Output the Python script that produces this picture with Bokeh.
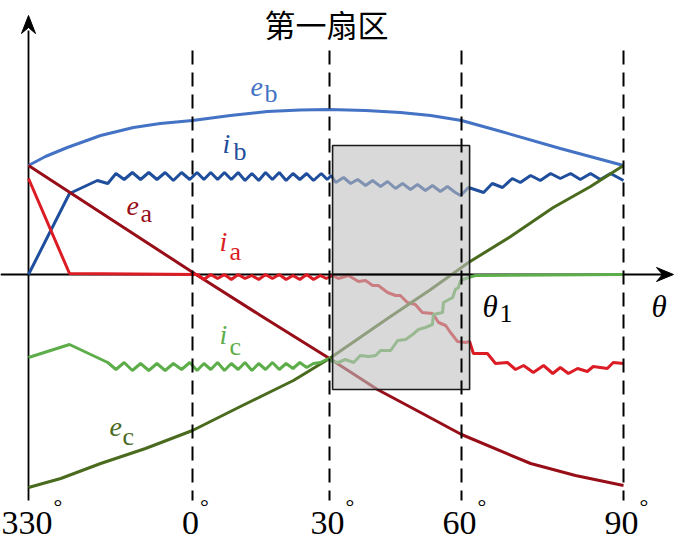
import numpy as np
from bokeh.plotting import figure
from bokeh.models import Range1d, Label
from bokeh.embed import file_html
from bokeh.resources import INLINE

# ---------------- data (angles in degrees, 330° written as -30) ----------------
TITLE = "第一扇区"
ANGLE_MARKS = [-30, 0, 30, 60, 90]
TICK_LABELS = ["330", "0", "30", "60", "90"]

EB_THETA = [-30, -26.9, -22.9, -16.8, -10.8, -5.9, 0, 8.3, 16.4, 23.6, 30, 38.2, 46.1, 53.0, 60, 66.7, 78.3, 90]
EB_VAL = [1.09, 1.18, 1.27, 1.39, 1.47, 1.51, 1.54, 1.59, 1.63, 1.645, 1.65, 1.64, 1.62, 1.59, 1.54, 1.44, 1.26, 1.09]

EA_THETA = [-30, -16.8, 1.1, 14.9, 30, 40.9, 50.7, 60, 72.8, 81.1, 90]
EA_VAL = [1.09, 0.62, -0.01, -0.41, -0.84, -1.15, -1.38, -1.60, -1.89, -2.01, -2.11]

EC_THETA = [-30, -24.1, -16.8, -8.6, 0, 10.5, 22.1, 30, 43.2, 53.0, 61.3, 69.1, 77.0, 83.9, 90]
EC_VAL = [-2.13, -2.04, -1.89, -1.74, -1.56, -1.32, -1.06, -0.84, -0.44, -0.15, 0.12, 0.38, 0.67, 0.88, 1.09]

IB_THETA = [-30, -22.5, -17.4, -15.5, -14.0, -12.5, -11.0, -9.5, -8.0, -6.5,
            -5.0, -3.5, -2.0, -0.5, 1.0, 2.5, 4.0, 5.5, 7.0, 8.5,
            10.0, 11.5, 13.0, 14.5, 16.0, 17.5, 19.0, 20.5, 22.0, 23.5,
            25.0, 26.5, 28.2, 29.5, 30.4, 31.4, 33.2, 34.8, 36.4, 38.2,
            39.8, 41.6, 43.2, 45.0, 46.6, 48.4, 50.0, 51.8, 53.4, 55.2,
            56.8, 58.6, 59.8, 61.3, 64.1, 65.7, 67.6, 69.4, 70.9, 72.8,
            74.6, 76.5, 78.3, 80.2, 82.0, 83.9, 85.7, 87.6, 90]
IB_VAL = [0.00, 0.81, 0.94, 0.91, 1.01, 0.95, 1.02, 0.95, 1.02, 0.95,
          1.02, 0.94, 1.02, 0.95, 1.02, 0.95, 1.02, 0.95, 1.02, 0.95,
          1.02, 0.94, 1.01, 0.94, 1.02, 0.95, 1.02, 0.94, 1.01, 0.95,
          1.01, 0.94, 1.01, 0.95, 0.99, 0.92, 0.97, 0.91, 0.95, 0.89,
          0.94, 0.88, 0.93, 0.86, 0.91, 0.85, 0.90, 0.84, 0.89, 0.83,
          0.88, 0.82, 0.79, 0.87, 0.82, 0.91, 0.87, 0.96, 0.92, 0.99,
          0.94, 1.01, 0.96, 1.01, 0.95, 1.01, 0.95, 1.01, 0.94]

IA_THETA = [-30, -22.5, 1.1, 2.5, 4.0, 5.5, 7.0, 8.5, 10.0, 11.5,
            13.0, 14.5, 16.0, 17.5, 19.0, 20.5, 22.0, 23.5, 25.0, 26.5,
            28.0, 29.3, 30.7, 32.0, 34.3, 36.6, 38.2, 39.8, 41.1, 43.2,
            45.0, 46.1, 47.7, 49.5, 51.1, 53.4, 54.8, 56.4, 57.5, 59.1,
            60.7, 61.5, 62.2, 64.8, 66.3, 68.5, 70.0, 71.5, 73.3, 75.2,
            76.9, 78.3, 79.8, 81.5, 83.3, 84.4, 87.0, 88.1, 90]
IA_VAL = [0.96, 0.01, 0.0, -0.05, 0.0, -0.04, 0.0, -0.05, 0.0, -0.04,
          -0.01, -0.05, 0.0, -0.04, 0.0, -0.05, -0.01, -0.05, 0.0, -0.05,
          -0.01, -0.04, -0.01, -0.04, -0.01, -0.07, -0.06, -0.11, -0.11, -0.18,
          -0.21, -0.21, -0.28, -0.30, -0.38, -0.39, -0.48, -0.51, -0.58, -0.67,
          -0.68, -0.67, -0.79, -0.79, -0.89, -0.88, -0.95, -0.91, -0.98, -0.91,
          -0.99, -0.93, -0.99, -0.94, -0.97, -0.92, -0.94, -0.88, -0.89]

IC_THETA = [-30, -22.5, -15.5, -14.0, -12.5, -11.0, -9.5, -8.0, -6.5, -5.0,
            -3.5, -2.0, -0.5, 1.0, 2.5, 4.0, 5.5, 7.0, 8.5, 10.0,
            11.5, 13.0, 14.5, 16.0, 17.5, 19.0, 20.5, 22.0, 23.5, 25.0,
            26.5, 28.0, 29.8, 30.7, 32.0, 33.6, 35.5, 37.0, 38.9, 40.5,
            41.6, 43.9, 45.5, 47.3, 48.9, 50.2, 51.8, 53.4, 53.6, 55.7,
            55.9, 58.0, 58.6, 59.3, 59.8, 61.3, 62.6, 90]
IC_VAL = [-0.83, -0.70, -0.88, -0.95, -0.88, -0.96, -0.89, -0.96, -0.89, -0.96,
          -0.89, -0.95, -0.88, -0.96, -0.89, -0.95, -0.88, -0.96, -0.89, -0.95,
          -0.88, -0.96, -0.89, -0.95, -0.88, -0.95, -0.89, -0.94, -0.88, -0.93,
          -0.89, -0.88, -0.84, -0.87, -0.88, -0.85, -0.88, -0.81, -0.82, -0.81,
          -0.76, -0.76, -0.66, -0.65, -0.60, -0.55, -0.53, -0.50, -0.40, -0.38,
          -0.28, -0.23, -0.15, -0.13, -0.06, -0.03, -0.01, 0.0]

RECT_THETA = [30.7, 61.5]
RECT_VAL = [-1.15, 1.29]

# ---------------- layout / style ----------------
W, H = 677, 539
X_MARK_POS = [28, 192, 329, 461, 623]   # frame x of the angle marks (schematic, non-uniform)
AXIS_Y = 274                            # frame y (from top) of value 0
PX_PER_UNIT = 100.0
TXT_DY = -9                             # compensation for rendered text baseline
SERIF = "Liberation Serif"
C_EB, C_IB = "#4472C4", "#1F4E9C"
C_EA, C_IA = "#970E18", "#DC1C24"
C_EC, C_IC = "#4A6B1E", "#5DAE4B"


def wx(theta):
    return np.interp(np.asarray(theta, dtype=float), ANGLE_MARKS, X_MARK_POS)


def vy(py):
    return (AXIS_Y - py) / PX_PER_UNIT


p = figure(width=W, height=H, x_range=Range1d(0, W),
           y_range=Range1d(vy(H), vy(0)),
           output_backend="svg", toolbar_location=None,
           x_axis_type=None, y_axis_type=None, min_border=0,
           outline_line_color=None, background_fill_color="white",
           border_fill_color="white")
p.grid.visible = False

# axes (drawn first, under curves)
ax0 = X_MARK_POS[0]
p.line([ax0, ax0], [vy(500), vy(30)], line_color="black", line_width=1.8)
tip = 15
p.patch([ax0, ax0 - 7, ax0, ax0 + 7],
        [vy(tip), vy(tip + 18), vy(tip + 12), vy(tip + 18)],
        fill_color="black", line_color="black", line_width=1)
htip = 673
p.line([0, htip - 10], [0, 0], line_color="black", line_width=1.8)
p.patch([htip, htip - 17, htip - 11, htip - 17],
        [0, vy(AXIS_Y - 7), 0, vy(AXIS_Y + 7)],
        fill_color="black", line_color="black", line_width=1)

# curves
LW = 3
p.line(wx(EB_THETA), EB_VAL, line_color=C_EB, line_width=LW)
p.line(wx(IB_THETA), IB_VAL, line_color=C_IB, line_width=LW)
p.line(wx(EA_THETA), EA_VAL, line_color=C_EA, line_width=LW)
p.line(wx(IA_THETA), IA_VAL, line_color=C_IA, line_width=LW)
p.line(wx(EC_THETA), EC_VAL, line_color=C_EC, line_width=LW)
p.line(wx(IC_THETA), IC_VAL, line_color=C_IC, line_width=LW)

# translucent highlight box
p.quad(left=[float(wx(RECT_THETA[0]))], right=[float(wx(RECT_THETA[1]))],
       bottom=[RECT_VAL[0]], top=[RECT_VAL[1]],
       fill_color="#bfbfbf", fill_alpha=0.6, line_color="#1a1a1a", line_width=1.6)
p.line([float(wx(RECT_THETA[0])), float(wx(RECT_THETA[1]))], [0, 0],
       line_color="black", line_width=1.8)

# dashed angle marks
dx = [float(v) for v in wx(ANGLE_MARKS[1:])]
p.segment(x0=dx, y0=[vy(50)] * len(dx), x1=dx, y1=[vy(500)] * len(dx),
          line_color="black", line_width=2, line_dash="14 8")


def add_text(x, y, txt, size, color="black", italic=False, font=SERIF,
             align="left", baseline="alphabetic", dy=TXT_DY):
    p.add_layout(Label(x=x, y=vy(y + dy), text=txt, x_units="data", y_units="data",
                       text_font=font, text_font_size=f"{size}px",
                       text_font_style="italic" if italic else "normal",
                       text_color=color, text_align=align, text_baseline=baseline))


# title
add_text(326, 23, TITLE, 31, font="Noto Sans CJK SC", align="center",
         baseline="middle", dy=0)

# tick labels with superscript degree signs
FS = 34
for a, lab in zip(ANGLE_MARKS, TICK_LABELS):
    half = len(lab) * 0.25 * FS
    cx = max(float(wx(a)) - 2, half + 1)
    add_text(cx, 531, lab, FS, align="center")
    add_text(cx + half + 1, 515, "°", 22)

# curve labels
add_text(250, 95, "e", 28, C_EB, italic=True)
add_text(264, 102, "b", 26, C_EB)
add_text(222, 152, "i", 28, C_IB, italic=True)
add_text(233, 160, "b", 26, C_IB)
add_text(126, 214, "e", 28, C_EA, italic=True)
add_text(140, 222, "a", 26, C_EA)
add_text(219, 250, "i", 28, C_IA, italic=True)
add_text(229, 260, "a", 26, C_IA)
add_text(219, 343, "i", 28, C_IC, italic=True)
add_text(229, 355, "c", 26, C_IC)
add_text(109, 435, "e", 28, C_EC, italic=True)
add_text(122, 445, "c", 26, C_EC)
add_text(482, 315, "θ", 31, italic=True)
add_text(499, 322, "1", 26)
add_text(651, 315, "θ", 31, italic=True)

open("out.html", "w").write(file_html(p, INLINE))
